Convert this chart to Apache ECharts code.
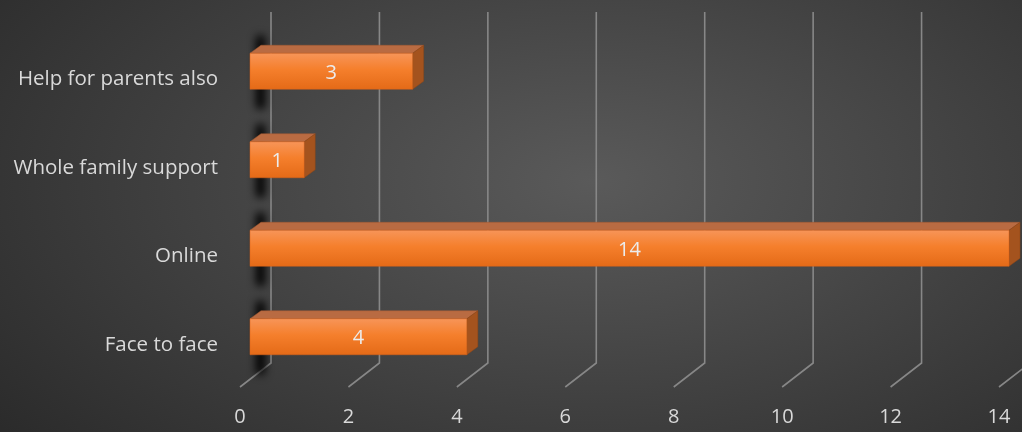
<!DOCTYPE html>
<html>
<head>
<meta charset="utf-8">
<script src="https://cdn.jsdelivr.net/npm/echarts@6/dist/echarts.min.js"></script>
<style>
html,body{margin:0;padding:0;}
#c{width:1022px;height:432px;background:radial-gradient(ellipse 75% 95% at 58% 42%, #5a5a5a 0%, #474747 40%, #2a2a2a 100%);}
</style>
</head>
<body>
<div id="c"></div>
<script>
var categories = ['Face to face', 'Online', 'Whole family support', 'Help for parents also'];
var values = [4, 14, 1, 3];
var xTicks = [0, 2, 4, 6, 8, 10, 12, 14];

var chart = echarts.init(document.getElementById('c'), null, {renderer: 'canvas'});
var FONT = '"Open Sans"';
var DX = 11, DY = 8, BAR_H = 36, OFF = 2000;

function barItem(params, api) {
  var v = api.value(0), c = api.value(1);
  var p0 = api.coord([0, c]);
  var p1 = api.coord([v, c]);
  var x0 = p0[0], x1 = p1[0];
  var top = p0[1] - BAR_H / 2, bot = p0[1] + BAR_H / 2;
  return {
    type: 'group',
    children: [
      {type: 'rect', shape: {x: x0 + 6 - OFF, y: top - 18, width: 9, height: BAR_H + 38, r: 4},
       style: {fill: '#000', shadowBlur: 9, shadowOffsetX: OFF, shadowColor: 'rgba(0,0,0,1)'}, z2: 0},
      {type: 'polygon', shape: {points: [[x0, top], [x0 + DX, top - DY], [x1 + DX, top - DY], [x1, top]]},
       style: {fill: '#b96b42', stroke: '#a65a30', lineWidth: 0.5}, z2: 2},
      {type: 'polygon', shape: {points: [[x1, top], [x1 + DX, top - DY], [x1 + DX, bot - DY], [x1, bot]]},
       style: {fill: '#a4531e', stroke: '#8f4616', lineWidth: 0.5}, z2: 2},
      {type: 'rect', shape: {x: x0, y: top, width: x1 - x0, height: BAR_H},
       style: {fill: new echarts.graphic.LinearGradient(0, 0, 0, 1, [
         {offset: 0, color: '#f79559'}, {offset: 0.45, color: '#f57f2c'}, {offset: 1, color: '#e46a17'}]),
         stroke: '#d8631a', lineWidth: 0.5}, z2: 3},
      {type: 'text', style: {text: String(v), x: (x0 + x1) / 2, y: p0[1] + 2, align: 'center', verticalAlign: 'middle',
        fill: '#ececec', font: '20px ' + FONT}, z2: 4}
    ]
  };
}

function gridItem(params, api) {
  var t = api.value(0);
  var p = api.coord([t, 0]);
  var cs = params.coordSys;
  var x = p[0];
  var yTop = cs.y - 15, yBot = cs.y + cs.height - 18;
  return {
    type: 'polyline',
    shape: {points: [[x + 21, yTop], [x + 21, yBot], [x - 10, yBot + 24]]},
    style: {stroke: '#878787', lineWidth: 1.6, fill: null},
    z2: 0
  };
}

chart.setOption({
  backgroundColor: 'transparent',
  animation: false,
  grid: {left: 250, right: 13, top: 27, bottom: 51, containLabel: false},
  xAxis: {
    type: 'value', min: 0, max: 14, interval: 2,
    axisLine: {show: false}, axisTick: {show: false}, splitLine: {show: false},
    axisLabel: {color: '#d9d9d9', fontFamily: FONT, fontSize: 20, margin: 26, padding: [0, 20, 0, 0]}
  },
  yAxis: {
    type: 'category', data: categories,
    axisLine: {show: false}, axisTick: {show: false}, splitLine: {show: false},
    axisLabel: {color: '#d9d9d9', fontFamily: FONT, fontSize: 20.5, margin: 32, verticalAlign: 'top', lineHeight: 16}
  },
  series: [
    {type: 'custom', renderItem: gridItem, data: xTicks.map(function (t) { return [t]; }), z: 1, silent: true, clip: false},
    {type: 'custom', renderItem: barItem, data: values.map(function (v, i) { return [v, i]; }), z: 2, clip: false}
  ]
});
</script>
</body>
</html>
